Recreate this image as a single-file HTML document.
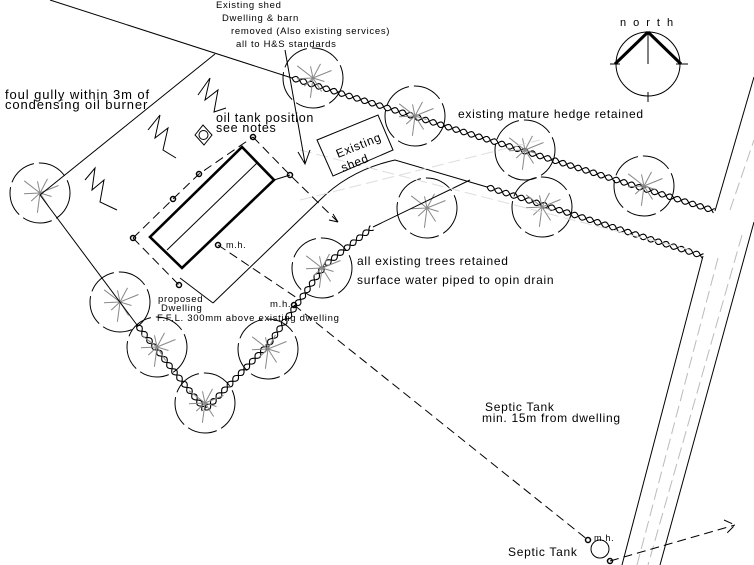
<!DOCTYPE html>
<html><head><meta charset="utf-8"><style>
html,body{margin:0;padding:0;background:#fff;}
svg{display:block;}
text{font-family:"Liberation Sans",sans-serif;font-size:12px;fill:#000;stroke:none;letter-spacing:0.7px;}
</style></head><body>
<svg id="s" width="754" height="565" viewBox="0 0 754 565" xmlns="http://www.w3.org/2000/svg" fill="none" stroke="#000" stroke-width="1">
<g id="g"></g>
<path d="M50,0 L292,78"/>
<path d="M215,54 L40,195"/>
<path d="M40,195 L137,325"/>
<path d="M213,303 L320,200 Q350,170 395,160 L487,187"/>
<path d="M180,278 L213,303"/>
<path d="M373,227 L470,180"/>
<path d="M715,211 L754,77"/>
<path d="M703,256 L622,565"/>
<path d="M754,222 L660,565"/>
<path d="M718,258 L637,565 M742,235 L648,565 M730,210 L754,140" stroke="#bbb" stroke-dasharray="12 5"/>
<path d="M300,150 L690,250 M300,200 L540,140" stroke="#ddd" stroke-dasharray="12 5"/>
<path d="M242,147 L274,180 L182,268 L150,237 Z" stroke-width="2.6"/>
<path d="M257,163 L167,250"/>
<path d="M253,137 L290,175 L338,222 M133,238 L173,199 L199,174 L253,137 M133,238 L179,285 M218,245 L300,300" stroke-dasharray="9 5"/>
<path d="M274,180 L290,175"/>
<path d="M241,212 L252,201" stroke-width="2"/>
<g stroke-width="1.5">
<circle cx="253" cy="137" r="2.5"/><circle cx="290" cy="175" r="2.5"/><circle cx="199" cy="174" r="2.5"/><circle cx="173" cy="199" r="2.5"/><circle cx="133" cy="238" r="2.5"/><circle cx="218" cy="245" r="2.5"/><circle cx="179" cy="285" r="2.5"/><circle cx="294" cy="305" r="2.5"/><circle cx="588" cy="540" r="2.5"/><circle cx="610" cy="561" r="2.5"/>
</g>
<path d="M198,95 L210,78 L205,100 L218,90 L214,112 L226,108"/>
<path d="M148,130 L160,115 L155,138 L168,128 L163,150 L176,158"/>
<path d="M85,180 L95,168 L92,190 L104,180 L100,202 L117,210"/>
<path d="M195,135 L203,125 L212,135 L204,145 Z"/><circle cx="203.5" cy="135" r="4.5"/>
<path d="M317,140 L378,115 L393,150 L333,176 Z"/>
<text transform="translate(338,158) rotate(-22)" style="font-size:12px">Existing</text>
<text transform="translate(343,172) rotate(-22)" style="font-size:12px">shed</text>
<path d="M285,50 L305,163 M298,152 L305,164 L310,150"/>
<path d="M338,222 L333,214 M338,222 L329,220"/>
<circle cx="648" cy="64" r="32"/>
<path d="M648,32 L615,64 M648,32 L681,64" stroke-width="3"/>
<path d="M648,32 L648,64 M610,64 L620,64 M676,64 L688,64 M648,92 L648,102"/>
<text x="620" y="26" style="letter-spacing:7px;font-size:11px">north</text>
<circle cx="600" cy="549" r="9"/>
<path d="M294,305 L588,540 M610,561 L735,525 M724,520 L735,525 L725,535" stroke-dasharray="9 5"/>
<text x="216" y="8" style="font-size:9.5px">Existing shed</text>
<text x="222" y="21" style="font-size:9.5px">Dwelling &amp; barn</text>
<text x="231" y="34" style="font-size:9.5px">removed (Also existing services)</text>
<text x="236" y="47" style="font-size:9.5px">all to H&amp;S standards</text>
<text x="5" y="99" style="font-size:13px;letter-spacing:0.9px">foul gully within 3m of</text>
<text x="5" y="109" style="font-size:13px;letter-spacing:0.9px">condensing oil burner</text>
<text x="216" y="122" style="font-size:12.5px">oil tank position</text>
<text x="216" y="132" style="font-size:12.5px">see notes</text>
<text x="226" y="248" style="font-size:9px">m.h.</text>
<text x="458" y="118">existing mature hedge retained</text>
<text x="357" y="265">all existing trees retained</text>
<text x="357" y="284">surface water piped to opin drain</text>
<text x="158" y="302" style="font-size:9.5px">proposed</text>
<text x="161" y="311" style="font-size:9.5px">Dwelling</text>
<text x="157" y="321" style="font-size:9.5px">F.F.L. 300mm above existing dwelling</text>
<text x="270" y="307" style="font-size:9.5px">m.h.</text>
<text x="485" y="411">Septic Tank</text>
<text x="482" y="422">min. 15m from dwelling</text>
<text x="508" y="556">Septic Tank</text>
<text x="594" y="541" style="font-size:9px">m.h.</text>
</svg>
<script>
var g=document.getElementById('g'),NS='http://www.w3.org/2000/svg';
function el(t,a){var e=document.createElementNS(NS,t);for(var k in a)e.setAttribute(k,a[k]);g.appendChild(e);return e;}
function rope(pts){for(var i=0;i<pts.length-1;i++){var a=pts[i],b=pts[i+1],dx=b[0]-a[0],dy=b[1]-a[1],L=Math.hypot(dx,dy),ux=dx/L,uy=dy/L,nx=-uy,ny=ux;
for(var s=-1;s<=1;s+=2){var d='';for(var t=0;t<=L;t+=1.5){var o=s*2.8*Math.sin(t/8*Math.PI*2/2);var x=a[0]+ux*t+nx*o,y=a[1]+uy*t+ny*o;d+=(t?'L':'M')+x.toFixed(1)+','+y.toFixed(1);}el('path',{d:d,'stroke-width':1.1});}}}
rope([[292,78],[715,211]]);
rope([[487,187],[703,256]]);
rope([[137,325],[205,410],[268,345],[325,265],[373,227]]);
var trees=[[40,193],[313,78],[415,116],[525,150],[644,186],[427,208],[542,207],[322,268],[120,302],[157,347],[205,403],[268,349]];
trees.forEach(function(c){el('circle',{cx:c[0],cy:c[1],r:30,'stroke-dasharray':'30 5'});
for(var k=0;k<9;k++){var an=k*0.7+0.3,r=12+(k%3)*4;el('line',{x1:c[0],y1:c[1],x2:(c[0]+r*Math.cos(an)).toFixed(1),y2:(c[1]+r*Math.sin(an)).toFixed(1),stroke:'#888'});}});
</script>
</body></html>
